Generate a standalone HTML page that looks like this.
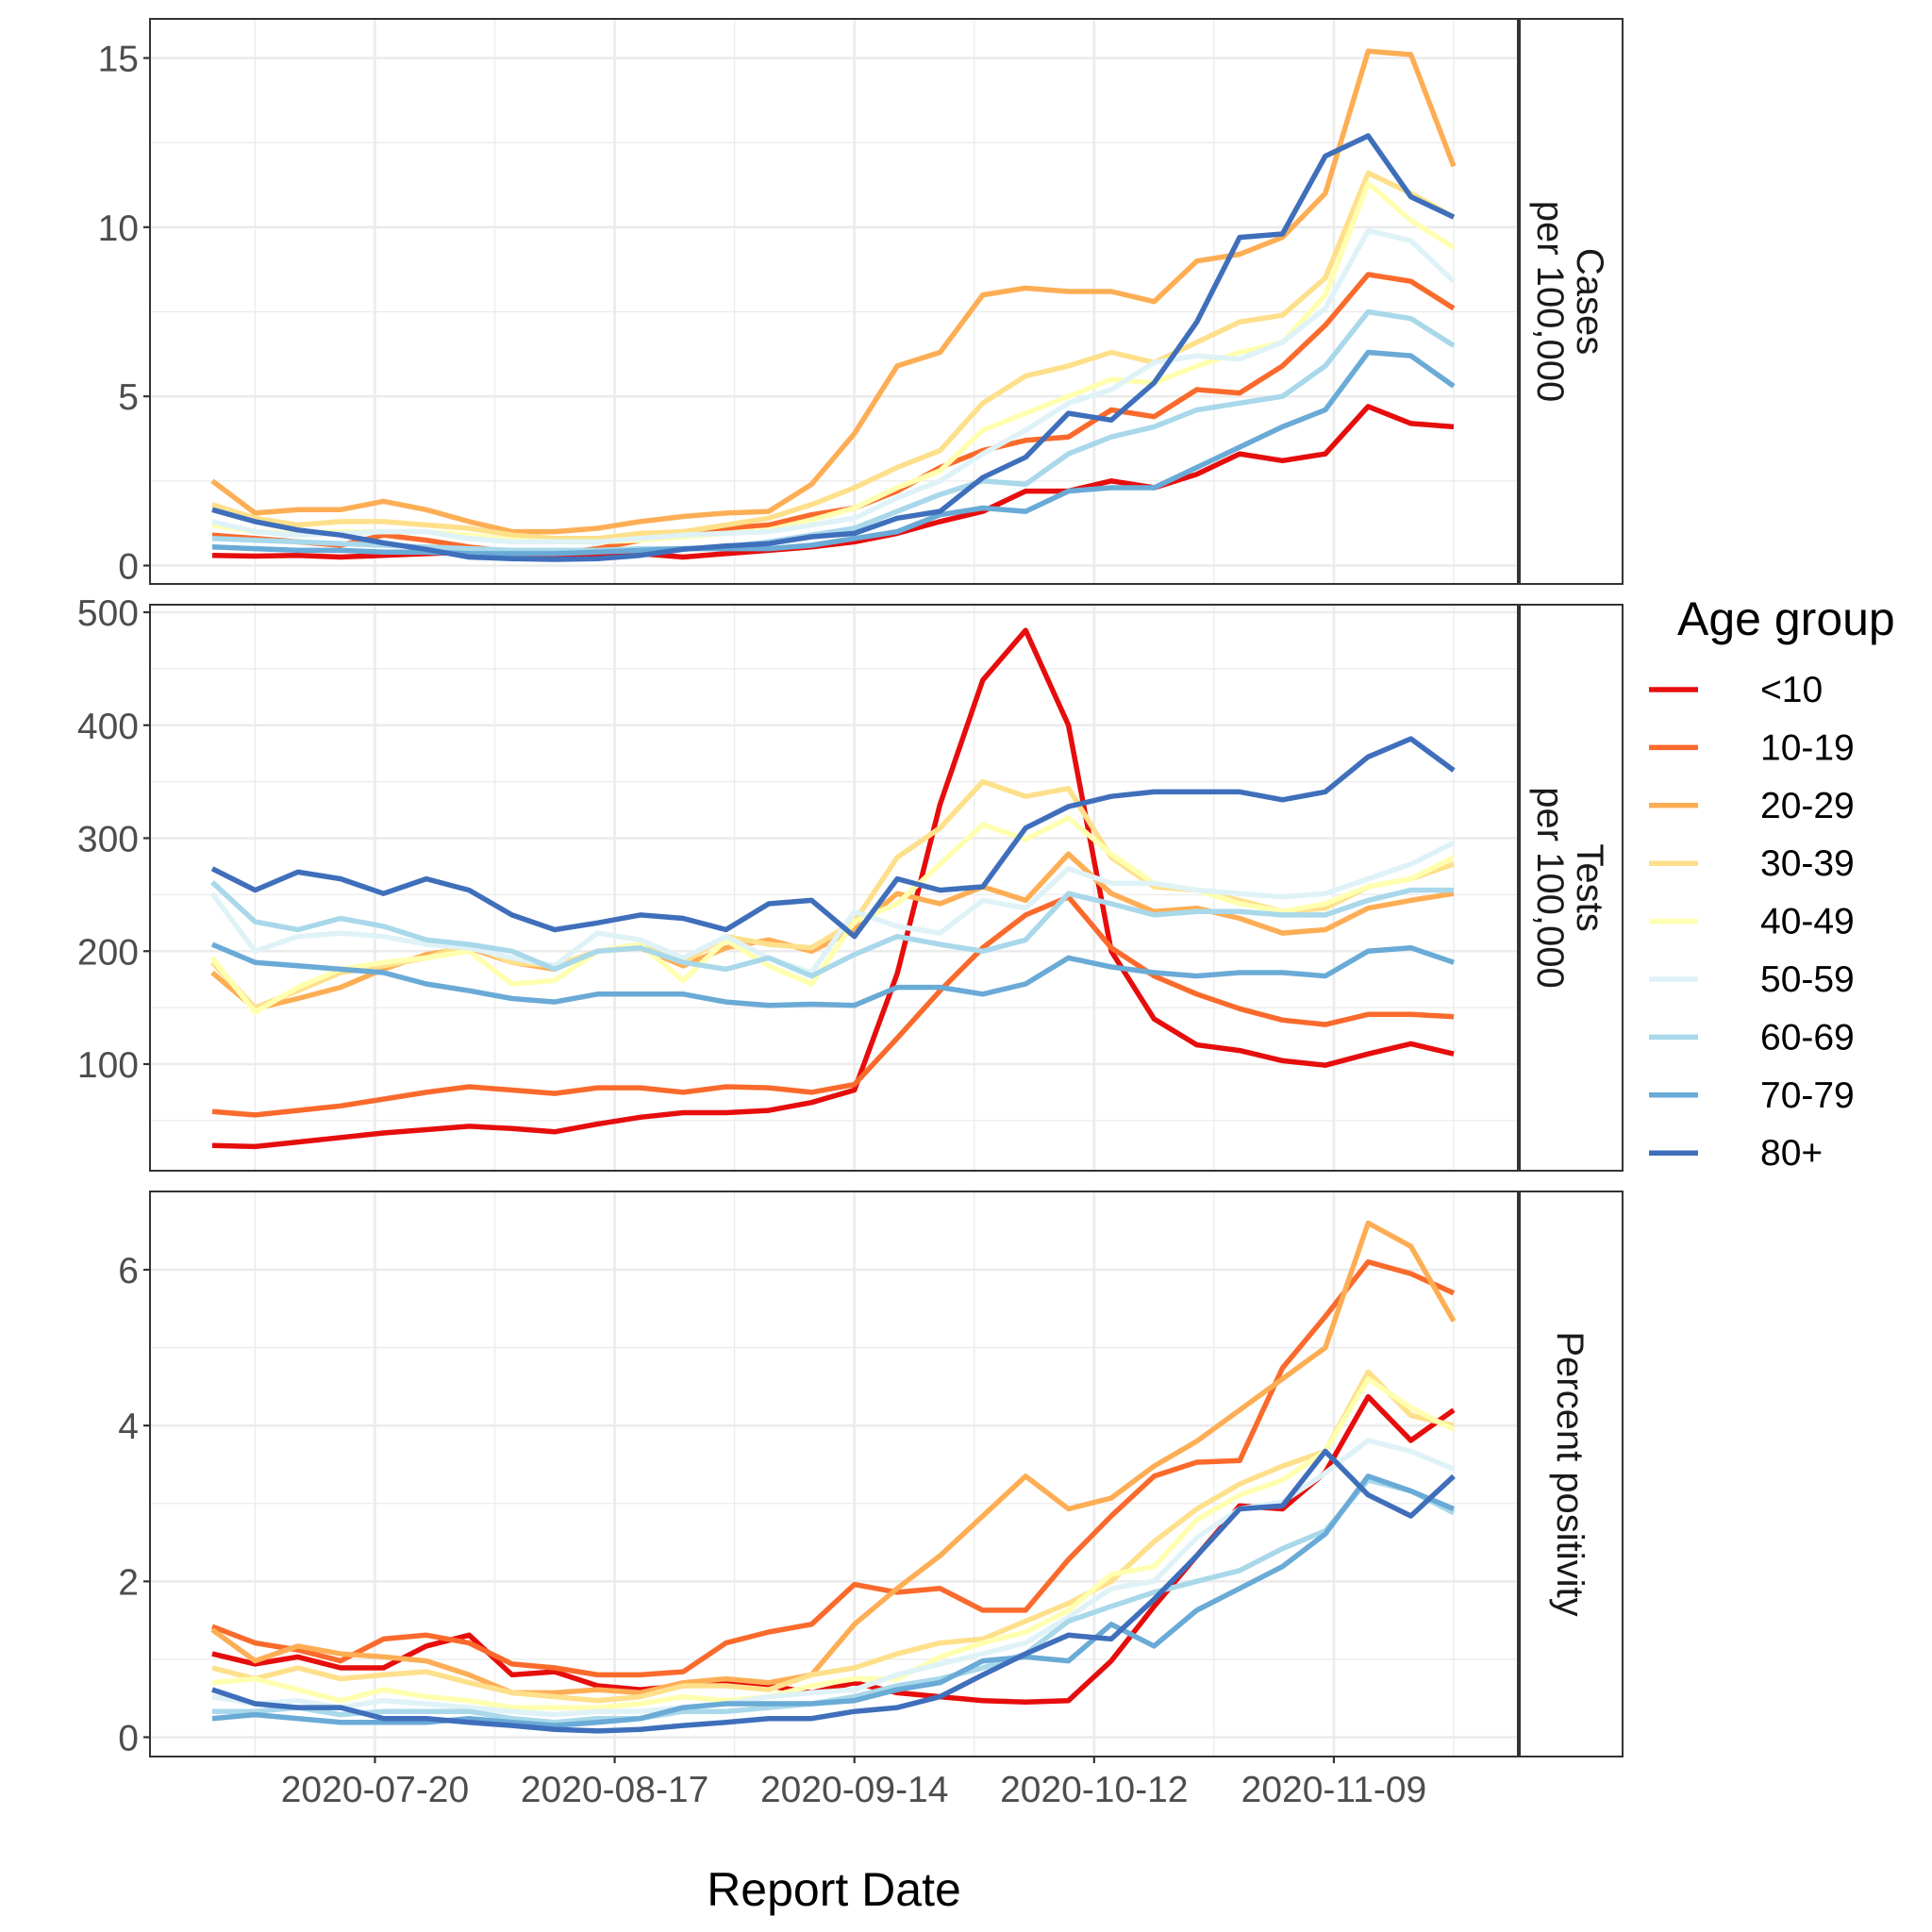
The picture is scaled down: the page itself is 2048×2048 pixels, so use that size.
<!DOCTYPE html>
<html>
<head>
<meta charset="utf-8">
<style>
  html, body { margin: 0; padding: 0; background: #ffffff; }
  svg { display: block; font-family: "Liberation Sans", "DejaVu Sans", sans-serif; }
</style>
</head>
<body>
<svg id="chart" width="2048" height="2048" viewBox="0 0 2048 2048" xmlns="http://www.w3.org/2000/svg">
  <rect x="0" y="0" width="2048" height="2048" fill="#ffffff"/>
  <g id="panels"></g>
  <g id="xaxis"></g>
  <text x="884" y="2020" font-size="50" text-anchor="middle" fill="#000">Report Date</text>
  <g id="legend">
    <text x="1778" y="673" font-size="50" fill="#000">Age group</text>
  </g>
</svg>
<script>
// ---------- data ----------
const dayOffsets = [0,5,10,15,20,25,30,35,40,45,50,55,60,65,70,75,80,85,90,95,100,105,110,115,120,125,130,135,140,145]; // days since 2020-07-01
const groupLabels = ["<10","10-19","20-29","30-39","40-49","50-59","60-69","70-79","80+"];
const xTickLabels = ["2020-07-20","2020-08-17","2020-09-14","2020-10-12","2020-11-09"];
const xTickDays = [19,47,75,103,131];
const xMinorDays = [5,33,61,89,117,145];

const casesLt10 = [0.3,0.28,0.3,0.25,0.3,0.35,0.4,0.3,0.25,0.35,0.35,0.25,0.35,0.45,0.55,0.7,0.95,1.3,1.6,2.2,2.2,2.5,2.3,2.7,3.3,3.1,3.3,4.7,4.2,4.1];
const cases10 = [0.9,0.8,0.7,0.6,0.9,0.75,0.55,0.4,0.35,0.5,0.75,1.0,1.1,1.2,1.5,1.7,2.2,2.9,3.4,3.7,3.8,4.6,4.4,5.2,5.1,5.9,7.1,8.6,8.4,7.6];
const cases20 = [2.5,1.55,1.65,1.65,1.9,1.65,1.3,1.0,1.0,1.1,1.3,1.45,1.55,1.6,2.4,3.9,5.9,6.3,8.0,8.2,8.1,8.1,7.8,9.0,9.2,9.7,11.0,15.2,15.1,11.8];
const cases30 = [1.8,1.4,1.2,1.3,1.3,1.2,1.1,0.9,0.8,0.8,0.95,1.0,1.2,1.4,1.8,2.3,2.9,3.4,4.8,5.6,5.9,6.3,6.0,6.6,7.2,7.4,8.5,11.6,11.0,10.3];
const cases40 = [1.2,1.0,0.95,1.0,1.0,1.0,0.9,0.75,0.7,0.7,0.75,0.85,0.95,1.05,1.35,1.7,2.3,2.8,4.0,4.5,5.0,5.5,5.4,5.9,6.3,6.6,8.0,11.3,10.2,9.4];
const cases50 = [1.3,1.0,0.9,0.95,1.0,1.0,0.8,0.7,0.7,0.7,0.8,0.9,0.95,1.0,1.2,1.4,2.0,2.5,3.3,4.0,4.8,5.2,6.0,6.2,6.1,6.6,7.6,9.9,9.6,8.4];
const cases60 = [0.8,0.75,0.7,0.65,0.6,0.55,0.5,0.45,0.45,0.45,0.5,0.5,0.55,0.7,0.9,1.1,1.6,2.1,2.5,2.4,3.3,3.8,4.1,4.6,4.8,5.0,5.9,7.5,7.3,6.5];
const cases70 = [0.55,0.5,0.45,0.45,0.4,0.4,0.35,0.35,0.35,0.4,0.45,0.5,0.5,0.5,0.6,0.8,1.0,1.5,1.7,1.6,2.2,2.3,2.3,2.9,3.5,4.1,4.6,6.3,6.2,5.3];
const cases80 = [1.65,1.3,1.05,0.9,0.67,0.48,0.25,0.2,0.18,0.2,0.3,0.48,0.58,0.65,0.85,0.95,1.4,1.6,2.6,3.2,4.5,4.3,5.4,7.2,9.7,9.8,12.1,12.7,10.9,10.3];

const testsLt10 = [28,27,31,35,39,42,45,43,40,47,53,57,57,59,66,77,180,330,440,484,400,200,140,117,112,103,99,109,118,109];
const tests10 = [58,55,59,63,69,75,80,77,74,79,79,75,80,79,75,82,123,165,203,232,248,203,178,162,149,139,135,144,144,142];
const tests20 = [181,149,158,168,184,197,203,190,184,200,203,187,203,210,200,219,251,242,257,245,286,251,235,238,229,216,219,238,245,251];
const tests30 = [190,150,165,181,187,194,206,190,187,200,206,190,213,206,203,226,283,309,350,337,344,283,257,254,245,235,238,257,264,277];
const tests40 = [194,146,168,184,190,194,200,171,174,200,206,174,210,187,171,226,242,277,312,299,318,286,260,254,242,235,242,257,264,283];
const tests50 = [251,200,213,216,213,206,203,194,187,216,210,194,213,194,181,235,222,216,245,238,273,260,260,254,251,248,251,264,277,296];
const tests60 = [261,226,219,229,222,210,206,200,184,200,203,190,184,194,178,197,213,206,200,210,251,242,232,235,235,232,232,245,254,254];
const tests70 = [206,190,187,184,181,171,165,158,155,162,162,162,155,152,153,152,168,168,162,171,194,186,181,178,181,181,178,200,203,190];
const tests80 = [273,254,270,264,251,264,254,232,219,225,232,229,219,242,245,213,264,254,257,309,328,337,341,341,341,334,341,372,388,360];

const posLt10 = [1.07,0.94,1.03,0.89,0.89,1.17,1.31,0.8,0.84,0.66,0.61,0.66,0.7,0.66,0.57,0.7,0.57,0.52,0.47,0.45,0.47,0.98,1.68,2.33,2.97,2.93,3.4,4.37,3.81,4.2];
const pos10 = [1.42,1.21,1.12,0.98,1.26,1.31,1.21,0.94,0.89,0.8,0.8,0.84,1.21,1.35,1.45,1.96,1.86,1.91,1.63,1.63,2.28,2.84,3.35,3.53,3.55,4.74,5.4,6.1,5.95,5.7];
const pos20 = [1.38,0.98,1.17,1.07,1.03,0.98,0.8,0.57,0.57,0.61,0.57,0.7,0.75,0.7,0.8,1.45,1.91,2.33,2.84,3.35,2.93,3.07,3.48,3.8,4.2,4.6,5.0,6.6,6.3,5.34];
const pos30 = [0.89,0.75,0.89,0.75,0.8,0.84,0.7,0.57,0.52,0.47,0.52,0.66,0.66,0.61,0.8,0.89,1.07,1.21,1.26,1.49,1.72,2.0,2.51,2.93,3.25,3.48,3.67,4.69,4.13,4.0];
const pos40 = [0.7,0.75,0.61,0.47,0.61,0.52,0.47,0.38,0.38,0.38,0.43,0.52,0.47,0.52,0.66,0.75,0.75,1.03,1.21,1.35,1.63,2.09,2.19,2.79,3.11,3.3,3.67,4.6,4.23,3.95];
const pos50 = [0.52,0.43,0.47,0.38,0.47,0.43,0.38,0.33,0.29,0.33,0.33,0.38,0.43,0.52,0.57,0.61,0.8,0.94,1.07,1.21,1.54,1.91,2.0,2.56,2.93,3.02,3.39,3.81,3.67,3.44];
const pos60 = [0.33,0.33,0.38,0.29,0.33,0.33,0.33,0.24,0.19,0.24,0.24,0.33,0.33,0.38,0.43,0.52,0.66,0.75,0.89,1.07,1.49,1.68,1.86,2.0,2.14,2.42,2.65,3.3,3.16,2.88];
const pos70 = [0.24,0.29,0.24,0.19,0.19,0.19,0.24,0.19,0.15,0.19,0.24,0.38,0.43,0.43,0.43,0.47,0.61,0.7,0.98,1.03,0.98,1.45,1.17,1.63,1.91,2.19,2.61,3.35,3.16,2.93];
const pos80 = [0.61,0.43,0.38,0.38,0.24,0.24,0.19,0.15,0.1,0.08,0.1,0.15,0.19,0.24,0.24,0.33,0.38,0.52,0.8,1.07,1.31,1.26,1.77,2.33,2.93,2.97,3.67,3.11,2.84,3.35];

const casesTicks = [0,5,10,15];
const testsTicks = [100,200,300,400,500];
const posTicks = [0,2,4,6];

// ---------- layout ----------
const colors = ["#e60d0d","#fa6a2c","#fdae55","#fee08b","#ffffb0","#dff2f7","#a8d8ea","#6aaad6","#3f6fbb"];
const X0 = 159, X1 = 1609;
function xScale(d) { return 225 + 9.076 * d; }
function lin(v0, p0, v1, p1) { return v => p0 + (v - v0) * (p1 - p0) / (v1 - v0); }

const panels = [
  { name: "cases", top: 20, bottom: 619, y: lin(0, 599.5, 15, 61.5), ticks: casesTicks, minor: [2.5,7.5,12.5],
    series: [casesLt10,cases10,cases20,cases30,cases40,cases50,cases60,cases70,cases80], strip: ["Cases","per 100,000"] },
  { name: "tests", top: 641, bottom: 1241, y: lin(100, 1128, 500, 649), ticks: testsTicks, minor: [50,150,250,350,450],
    series: [testsLt10,tests10,tests20,tests30,tests40,tests50,tests60,tests70,tests80], strip: ["Tests","per 100,000"] },
  { name: "positivity", top: 1263, bottom: 1862, y: lin(0, 1841.5, 6, 1346), ticks: posTicks, minor: [1,3,5],
    series: [posLt10,pos10,pos20,pos30,pos40,pos50,pos60,pos70,pos80], strip: ["Percent positivity"] }
];

const NS = "http://www.w3.org/2000/svg";
function mk(tag, attrs, parent) {
  const e = document.createElementNS(NS, tag);
  for (const k in attrs) e.setAttribute(k, attrs[k]);
  if (parent) parent.appendChild(e);
  return e;
}

const gPanels = document.getElementById("panels");
const defs = mk("defs", {}, document.getElementById("chart"));

panels.forEach((p, pi) => {
  const g = mk("g", {}, gPanels);
  
  
  const clip = mk("clipPath", { id: "clip" + pi }, defs);
  mk("rect", { x: X0, y: p.top, width: X1 - X0, height: p.bottom - p.top }, clip);

  p.minor.forEach(v => {
    const yy = p.y(v);
    if (yy < p.top || yy > p.bottom) return;
    const l = mk("line", { x1: X0, x2: X1, y1: yy, y2: yy, stroke: "#ebebeb", "stroke-width": 1.3 }, g);
    
    
  });
  xMinorDays.forEach(d => {
    const xx = xScale(d);
    const l = mk("line", { x1: xx, x2: xx, y1: p.top, y2: p.bottom, stroke: "#ebebeb", "stroke-width": 1.3 }, g);
    
    
  });
  p.ticks.forEach(v => {
    const yy = p.y(v);
    const l = mk("line", { x1: X0, x2: X1, y1: yy, y2: yy, stroke: "#ebebeb", "stroke-width": 2.6 }, g);
    
    
    const t = mk("line", { x1: X0 - 7, x2: X0, y1: yy, y2: yy, stroke: "#333", "stroke-width": 2.2 }, g);
    
    
    const lab = mk("text", { x: X0 - 12, y: yy + 14, "font-size": 39, "text-anchor": "end", fill: "#4d4d4d" }, g);
    
    
    lab.textContent = String(v);
  });
  xTickDays.forEach(d => {
    const xx = xScale(d);
    const l = mk("line", { x1: xx, x2: xx, y1: p.top, y2: p.bottom, stroke: "#ebebeb", "stroke-width": 2.6 }, g);
    
    
  });

  const gl = mk("g", { "clip-path": "url(#clip" + pi + ")" }, g);
  
  
  p.series.forEach((vals, si) => {
    const pts = vals.map((v, i) => xScale(dayOffsets[i]).toFixed(1) + "," + p.y(v).toFixed(1)).join(" ");
    const pl = mk("polyline", { points: pts, fill: "none", stroke: colors[si], "stroke-width": 5.5, "stroke-linejoin": "round", "stroke-linecap": "butt" }, gl);
    
    
  });

  const b = mk("rect", { x: X0, y: p.top, width: X1 - X0, height: p.bottom - p.top, fill: "none", stroke: "#333", "stroke-width": 2 }, g);
  
  

  const s = mk("rect", { x: 1611, y: p.top, width: 109, height: p.bottom - p.top, fill: "#ffffff", stroke: "#333", "stroke-width": 2 }, g);
  
  
  const cx = 1665, cy = (p.top + p.bottom) / 2;
  const st = mk("text", { x: 0, y: 0, "font-size": 40, "text-anchor": "middle", fill: "#1a1a1a", transform: "translate(" + cx + "," + cy + ") rotate(90)" }, g);
  
  
  const n = p.strip.length;
  p.strip.forEach((line, li) => {
    const ts = mk("tspan", { x: 0, y: (li - (n - 1) / 2) * 42 + 14 }, st);
    ts.textContent = line;
  });
});

const gx = document.getElementById("xaxis");
xTickDays.forEach((d, i) => {
  const xx = xScale(d);
  const t = mk("line", { x1: xx, x2: xx, y1: 1862, y2: 1869, stroke: "#333", "stroke-width": 2.2 }, gx);
  
  
  const lab = mk("text", { x: xx, y: 1910, "font-size": 39, "text-anchor": "middle", fill: "#4d4d4d" }, gx);
  
  
  lab.textContent = xTickLabels[i];
});

const gLeg = document.getElementById("legend");
groupLabels.forEach((lab, i) => {
  const yy = 731 + i * 61.4;
  const ge = mk("g", {}, gLeg);
  
  
  const k = mk("line", { x1: 1748, x2: 1800, y1: yy, y2: yy, stroke: colors[i], "stroke-width": 5.5 }, ge);
  
  
  const t = mk("text", { x: 1866, y: yy + 13, "font-size": 39, fill: "#000" }, ge);
  
  
  t.textContent = lab;
});
</script>
</body>
</html>
